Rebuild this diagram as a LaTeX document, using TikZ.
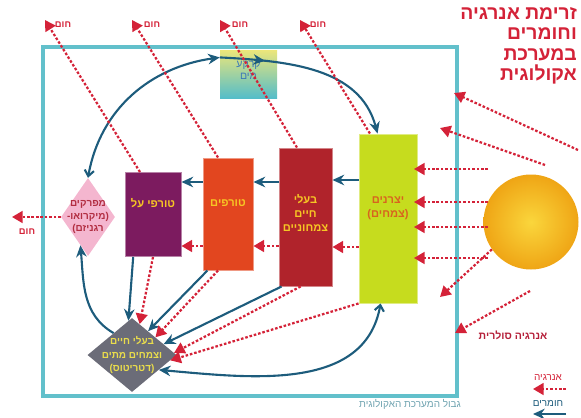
\documentclass[tikz,border=0pt]{standalone}
\usepackage{fontspec}
\setmainfont{Liberation Sans}
\newfontfamily\hebfont[Script=Hebrew]{Liberation Sans}
\TeXXeTstate=1
\usetikzlibrary{arrows.meta,shapes.geometric,decorations.markings}
\newdimen\pxu \pxu=0.03cm
\definecolor{matblue}{HTML}{1D5C7C}
\definecolor{enred}{HTML}{D42238}
\definecolor{bndcyan}{HTML}{62C0CB}
\definecolor{prodgreen}{HTML}{C6DC1E}
\definecolor{herbred}{HTML}{B0232B}
\definecolor{carnorange}{HTML}{E2461F}
\definecolor{toppurple}{HTML}{7C1B5F}
\definecolor{decpink}{HTML}{F4B6CF}
\definecolor{detgrey}{HTML}{6B6C78}
\definecolor{txtyellow}{HTML}{F6C624}
\definecolor{detyellow}{HTML}{E9DC4C}
\definecolor{prodtxt}{HTML}{D8641E}
\definecolor{dectxt}{HTML}{B22E42}
\definecolor{soiltop}{HTML}{ECE67A}
\definecolor{soilbot}{HTML}{54BDC9}
\definecolor{soiltxt}{HTML}{3C78B8}
\definecolor{suninner}{HTML}{FAD63C}
\definecolor{sunouter}{HTML}{EFA515}
\definecolor{bndtxt}{HTML}{6FA3B0}
\definecolor{soltxt}{HTML}{B5203A}
\tikzset{
  box/.style={rectangle, fill=#1, draw=#1!55!white, line width=0.8pt, inner sep=0pt},
  boxtxt/.style={font=\hebfont\bfseries\fontsize{9.5}{12}\selectfont, text=txtyellow, align=center},
  mat/.style={draw=matblue, line width=1.8pt, -{Stealth[length=10pt,width=9pt]}},
  energy/.style={draw=enred, line width=1.9pt, dash pattern=on 2.2pt off 1.6pt, -{Triangle[length=9pt,width=10pt]}},
  heattxt/.style={font=\hebfont\bfseries\fontsize{8}{9}\selectfont, text=enred},
  midtip/.style={postaction={decorate}, decoration={markings, mark=at position #1 with {\arrow{Stealth[length=10pt,width=9pt]}}}}
}
\begin{document}
\begin{tikzpicture}[x=0.03cm, y=-0.03cm]
\useasboundingbox (0,0) rectangle (581,418);

% ecosystem boundary
\draw[draw=bndcyan, line width=3.4pt] (43,47) rectangle (457,396);
\node[font=\hebfont\fontsize{8.5}{10}\selectfont, text=bndtxt] (bndlbl) at (410,404) {\beginR גבול המערכת האקולוגית\endR};

% boxes
\node[rectangle, inner sep=0pt, minimum width=57\pxu, minimum height=48\pxu, top color=soiltop, bottom color=soilbot,
  label={[font=\hebfont\fontsize{9}{10.5}\selectfont, text=soiltxt, align=center, yshift=4\pxu]center:{\beginR קרקע\endR\\\beginR מים\endR}}] (soil) at (248.5,74) {};
\node[box=prodgreen, minimum width=58\pxu, minimum height=169\pxu,
  label={[boxtxt, text=prodtxt, yshift=10\pxu]center:{\beginR יצרנים\endR\\\beginR (צמחים)\endR}}] (prod) at (388,218.5) {};
\node[box=herbred, minimum width=53\pxu, minimum height=138\pxu,
  label={[boxtxt, yshift=4\pxu]center:{\beginR בעלי\endR\\\beginR חיים\endR\\\beginR צמחוניים\endR}}] (herb) at (305.5,217) {};
\node[box=carnorange, minimum width=50\pxu, minimum height=112\pxu,
  label={[boxtxt, yshift=11\pxu]center:{\beginR טורפים\endR}}] (carn) at (228,214) {};
\node[box=toppurple, minimum width=56\pxu, minimum height=84\pxu,
  label={[boxtxt, yshift=11\pxu]center:{\beginR טורפי על\endR}}] (top) at (153,214.5) {};
\node[diamond, fill=decpink, inner sep=0pt, minimum width=54\pxu, minimum height=78\pxu,
  label={[font=\hebfont\bfseries\fontsize{8.5}{11}\selectfont, text=dectxt, align=center]center:{\beginR מפרקים\endR\\\beginR (מיקרואו-\endR\\\beginR רגניזם)\endR}}] (dec) at (88,217) {};
\node[diamond, fill=detgrey, inner sep=0pt, minimum width=89\pxu, minimum height=74\pxu,
  label={[font=\hebfont\bfseries\fontsize{8.5}{11.5}\selectfont, text=detyellow, align=center]center:{\beginR בעלי חיים\endR\\\beginR וצמחים מתים\endR\\\beginR (דטריטוס)\endR}}] (det) at (132,355) {};
\node[circle, minimum size=95\pxu, inner color=suninner, outer color=sunouter] (sun) at (531,222) {};

% title and texts
\node[anchor=north east, align=right, font=\hebfont\bfseries\fontsize{16.5}{17.5}\selectfont, text=enred] (ttl) at (581,3)
  {\beginR זרימת אנרגיה\endR\\\beginR וחומרים\endR\\\beginR במערכת\endR\\\beginR אקולוגית\endR};
\node[font=\hebfont\bfseries\fontsize{9}{10}\selectfont, text=soltxt] (sollbl) at (513,335) {\beginR אנרגיה סולרית\endR};

% material flow along the chain
\draw[mat] (prod.west |- 0,180) -- (herb.east |- 0,180);
\draw[mat] (herb.west |- 0,182) -- (carn.east |- 0,182);
\draw[mat] (carn.west |- 0,182) -- (top.east |- 0,182);
% energy flow along the chain
\draw[energy] (prod.west |- 0,247) -- (herb.east |- 0,247);
\draw[energy] (herb.west |- 0,246) -- (carn.east |- 0,246);
\draw[energy] (carn.west |- 0,246) -- (top.east |- 0,246);

% into the detritus
\draw[mat] (top.245) -- (det.96);
\draw[energy] (top.south) -- (det.76);
\draw[mat] (carn.250) -- (det.56);
\draw[energy] (carn.260) -- (det.37);
\draw[mat] (herb.251) -- (det.19);
\draw[energy] (herb.266) -- (det.3);
\draw[energy] (prod.south west) -- (det.-8);
\draw[mat, {Straight Barb[length=5pt,width=8pt]}-{Stealth[length=10pt,width=9pt]}] (prod.265) to[out=-100, in=-5] (det.-29);

% nutrient cycle
\draw[mat] (det.130) to[out=150, in=-85] (dec.255);
\draw[mat, {Straight Barb[length=5pt,width=8pt]}-{Stealth[length=10pt,width=9pt]}] (dec.north) to[out=80, in=188] (soil.150);
\draw[mat, midtip=0.24] (soil.150) to[out=-3, in=105] (prod.97);

% heat
\coordinate (h1) at (45,20);
\coordinate (h2) at (132,20);
\coordinate (h3) at (220,20);
\coordinate (h4) at (300,20);
\coordinate (h5) at (12,217);
\draw[energy] (top.107) -- (h1);
\draw[energy] (carn.100) -- (h2);
\draw[energy] (herb.97) -- (h3);
\draw[energy] (prod.102) -- (h4);
\draw[energy] (dec.west) -- (h5);
\node[heattxt] (q1) at (63,25) {\beginR חום\endR};
\node[heattxt] (q2) at (152,25) {\beginR חום\endR};
\node[heattxt] (q3) at (240,25) {\beginR חום\endR};
\node[heattxt] (q4) at (318,25) {\beginR חום\endR};
\node[heattxt] (q5) at (27,232) {\beginR חום\endR};

% sunlight
\coordinate (s1) at (578,150);
\coordinate (s2) at (545,165);
\coordinate (s3) at (530,291);
\coordinate (e1) at (454,93);
\coordinate (e2) at (440,128);
\coordinate (e3) at (455,333);
\coordinate (e4) at (440,297);
\draw[energy] (s1) -- (e1);
\draw[energy] (s2) -- (e2);
\foreach \i/\y in {1/169,2/202,3/227,4/258}{
  \coordinate (ray\i) at (488,\y);
  \draw[energy, shorten >=-3pt] (ray\i) -- (ray\i -| prod.east);
}
\draw[energy] (sun.215) -- (e4);
\draw[energy] (s3) -- (e3);

% legend
\node[font=\hebfont\fontsize{8.5}{10}\selectfont, text=enred] (legen) at (548,378) {\beginR אנרגיה\endR};
\node[font=\hebfont\fontsize{8.5}{10}\selectfont, text=matblue] (legmat) at (548,403) {\beginR חומרים\endR};
\coordinate (le1) at (566,389);
\coordinate (le2) at (533,389);
\coordinate (lm1) at (566,414);
\coordinate (lm2) at (533,414);
\draw[energy] (le1) -- (le2);
\draw[mat] (lm1) -- (lm2);
\end{tikzpicture}
\end{document}
